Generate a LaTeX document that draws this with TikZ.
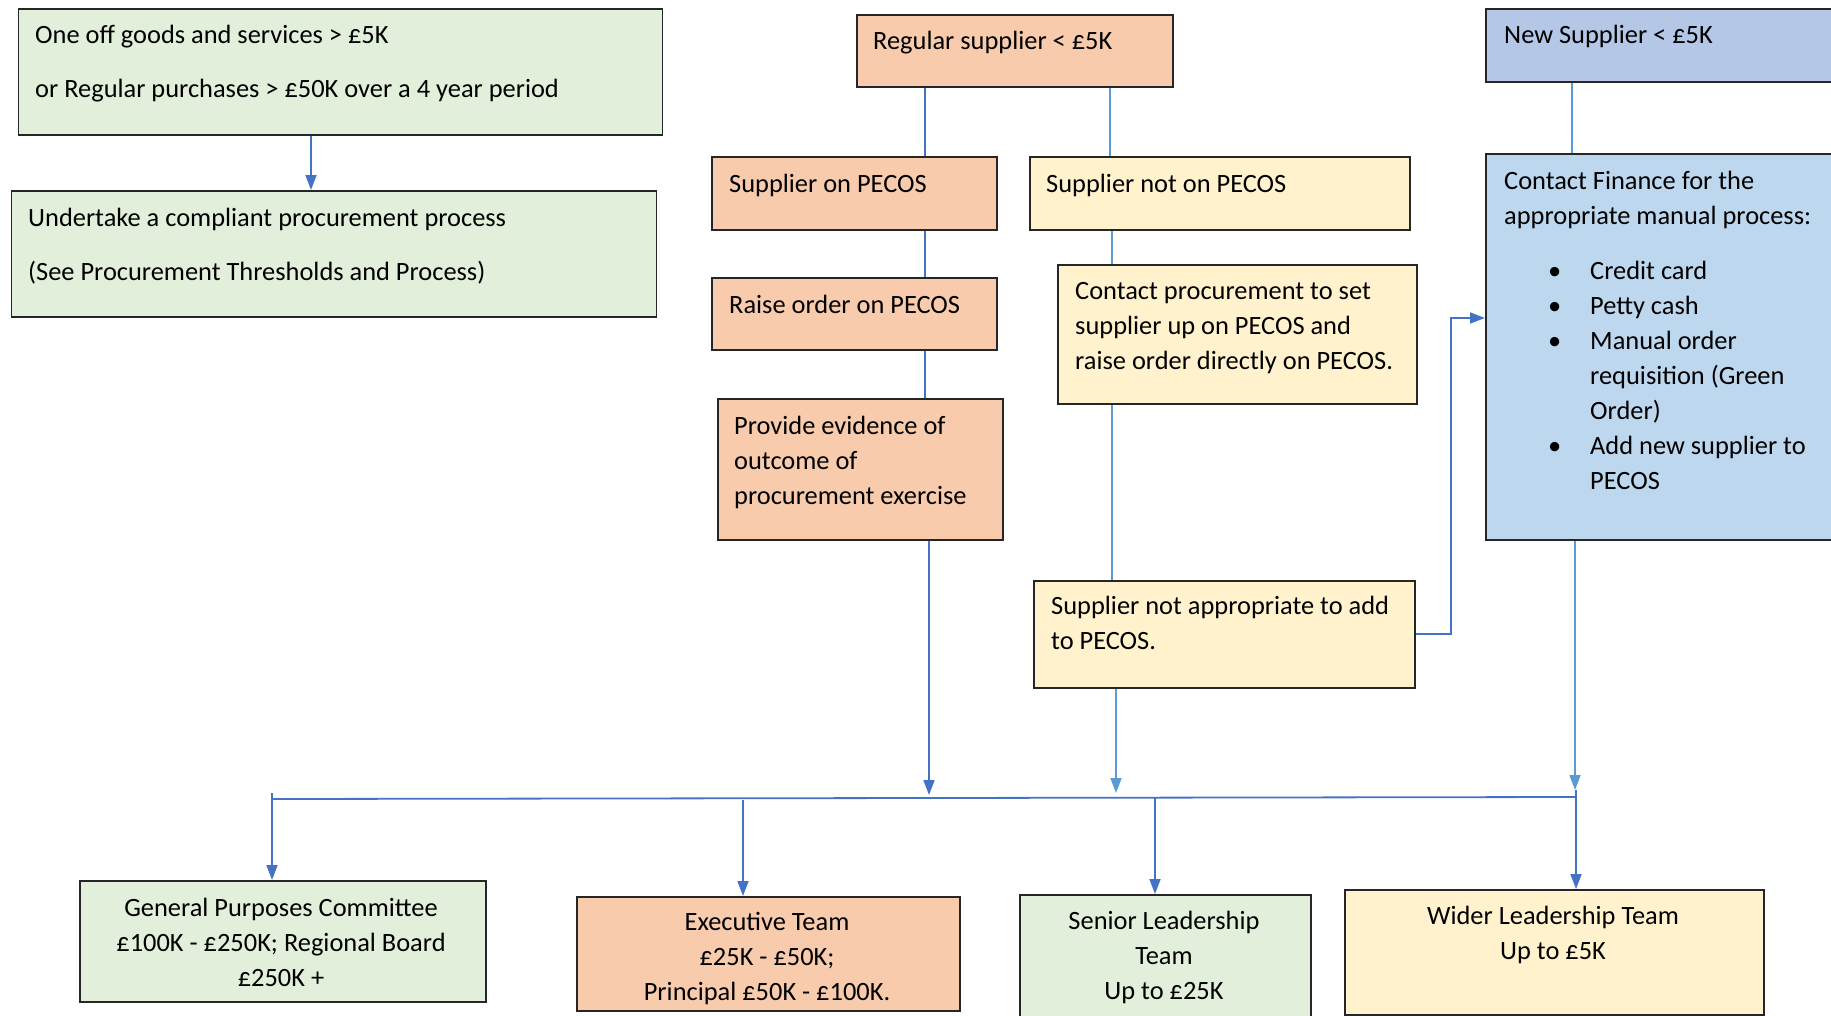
\documentclass[tikz,border=0pt]{standalone}
\usepackage{fontspec}
\setmainfont{Carlito}
\usetikzlibrary{arrows.meta}
\definecolor{cgreen}{HTML}{E2EFDA}
\definecolor{corange}{HTML}{F8CBAD}
\definecolor{cyellow}{HTML}{FFF2CC}
\definecolor{clav}{HTML}{B4C7E7}
\definecolor{clblue}{HTML}{BDD7EE}
\definecolor{ldark}{HTML}{4472C4}
\definecolor{llight}{HTML}{5B9BD5}
\tikzset{
  box/.style={draw=black!85, line width=1.6pt, anchor=north west, inner sep=0pt},
  txt/.style={anchor=base west, inner sep=0pt, font=\fontsize{26.4}{35}\selectfont},
  ctxt/.style={anchor=base, inner sep=0pt, font=\fontsize{26.4}{35}\selectfont},
  conn/.style={draw=ldark, line width=1.8pt},
  connl/.style={draw=llight, line width=1.8pt},
  tip/.style={-{Triangle[length=15pt,width=11pt]}},
}
\newcommand\bul{\hspace*{44pt}\makebox[42pt][l]{\textbullet}}
\newcommand\ind{\hspace*{86pt}}
\begin{document}
\begin{tikzpicture}[x=1pt,y=-1pt]
\useasboundingbox (0,0) rectangle (1831,1015);
% boxes
\node[box, fill=cgreen, minimum width=644pt, minimum height=126pt] (oneoff) at (17.5,8) {};
\node[box, fill=cgreen, minimum width=645pt, minimum height=126pt] (undertake) at (10.5,190) {};
\node[box, fill=corange, minimum width=316pt, minimum height=72pt] (reg) at (856,14) {};
\node[box, fill=corange, minimum width=285pt, minimum height=73pt] (sonp) at (711,156) {};
\node[box, fill=cyellow, minimum width=380pt, minimum height=73pt] (snotp) at (1029,156) {};
\node[box, fill=corange, minimum width=285pt, minimum height=72pt] (raise) at (711,277) {};
\node[box, fill=corange, minimum width=285pt, minimum height=141pt] (evid) at (717,398) {};
\node[box, fill=cyellow, minimum width=359pt, minimum height=139pt] (cproc) at (1057,264) {};
\node[box, fill=cyellow, minimum width=381pt, minimum height=107pt] (notap) at (1033,580) {};
\node[box, fill=clav, minimum width=370pt, minimum height=73pt] (newsup) at (1485,8) {};
\node[box, fill=clblue, minimum width=370pt, minimum height=386pt] (finance) at (1485,153) {};
\node[box, fill=cgreen, minimum width=406pt, minimum height=121pt] (gpc) at (79,880) {};
\node[box, fill=corange, minimum width=383pt, minimum height=114pt] (exec) at (576,896) {};
\node[box, fill=cgreen, minimum width=291pt, minimum height=150pt] (slt) at (1019,894) {};
\node[box, fill=cyellow, minimum width=419pt, minimum height=125pt] (wlt) at (1344,889) {};
% texts
\node[txt] (t-oneoff) at (35,43) {\parbox[t]{620pt}{One off goods and services > £5K\\[19pt]or Regular purchases > £50K over a 4 year period}};
\node[txt] (t-undertake) at (28,226) {\parbox[t]{620pt}{Undertake a compliant procurement process\\[19pt](See Procurement Thresholds and Process)}};
\node[txt] (t-reg) at (873,49) {Regular supplier < £5K};
\node[txt] (t-sonp) at (729,192) {Supplier on PECOS};
\node[txt] (t-snotp) at (1046,192) {Supplier not on PECOS};
\node[txt] (t-raise) at (729,313) {Raise order on PECOS};
\node[txt] (t-evid) at (734,434) {\parbox[t]{270pt}{Provide evidence of\\outcome of\\procurement exercise}};
\node[txt] (t-cproc) at (1075,299) {\parbox[t]{340pt}{Contact procurement to set\\supplier up on PECOS and\\raise order directly on PECOS.}};
\node[txt] (t-notap) at (1051,614) {\parbox[t]{360pt}{Supplier not appropriate to add\\to PECOS.}};
\node[txt] (t-newsup) at (1504,43) {New Supplier < £5K};
\node[txt] (t-finance) at (1504,189) {\parbox[t]{340pt}{Contact Finance for the\\appropriate manual process:\\[20pt]\bul Credit card\\\bul Petty cash\\\bul Manual order\\\ind requisition (Green\\\ind Order)\\\bul Add new supplier to\\\ind PECOS}};
\node[ctxt] (t-gpc) at (281,916) {\parbox[t]{400pt}{\centering General Purposes Committee\\£100K - £250K; Regional Board\\£250K +}};
\node[ctxt] (t-exec) at (767,930) {\parbox[t]{380pt}{\centering Executive Team\\£25K - £50K;\\Principal £50K - £100K.}};
\node[ctxt] (t-slt) at (1164,929) {\parbox[t]{290pt}{\centering Senior Leadership\\Team\\Up to £25K}};
\node[ctxt] (t-wlt) at (1553,924) {\parbox[t]{410pt}{\centering Wider Leadership Team\\Up to £5K}};
% x positions of connectors
\coordinate (xa) at (311,0);
\coordinate (xb) at (925,0);
\coordinate (xc) at (1110,0);
\coordinate (xd) at (1112,0);
\coordinate (xe) at (1572,0);
\coordinate (xf) at (929,0);
\coordinate (xg) at (1116,0);
\coordinate (xh) at (1575,0);
\coordinate (elb) at (1451,318);
\coordinate (busL) at (272,799);
\coordinate (busR) at (1576,797);
\coordinate (stubL) at (272,793);
\coordinate (stubR) at (1576,790);
\coordinate (bx1) at (743,800);
\coordinate (bx2) at (1155,798);
% connectors
\draw[conn,tip] (xa |- oneoff.south) -- (xa |- undertake.north);
\draw[conn] (xb |- reg.south) -- (xb |- sonp.north);
\draw[connl] (xc |- reg.south) -- (xc |- snotp.north);
\draw[conn] (xb |- sonp.south) -- (xb |- raise.north);
\draw[conn] (xb |- raise.south) -- (xb |- evid.north);
\draw[connl] (xd |- snotp.south) -- (xd |- cproc.north);
\draw[connl] (xd |- cproc.south) -- (xd |- notap.north);
\draw[connl] (xe |- newsup.south) -- (xe |- finance.north);
\draw[conn,tip] (notap.east) -| (elb) -- (elb -| finance.west);
\draw[conn,tip] (xf |- evid.south) -- ([yshift=4pt]xf |- busL);
\draw[connl,tip] (xg |- notap.south) -- ([yshift=6pt]xg |- busL);
\draw[connl,tip] (xh |- finance.south) -- ([yshift=9pt]xh |- busL);
\draw[conn] (busL) -- (busR);
\draw[conn,tip] (stubL) -- (stubL |- gpc.north);
\draw[conn,tip] (bx1) -- (bx1 |- exec.north);
\draw[conn,tip] (bx2) -- (bx2 |- slt.north);
\draw[conn,tip] (stubR) -- (stubR |- wlt.north);
\end{tikzpicture}
\end{document}
